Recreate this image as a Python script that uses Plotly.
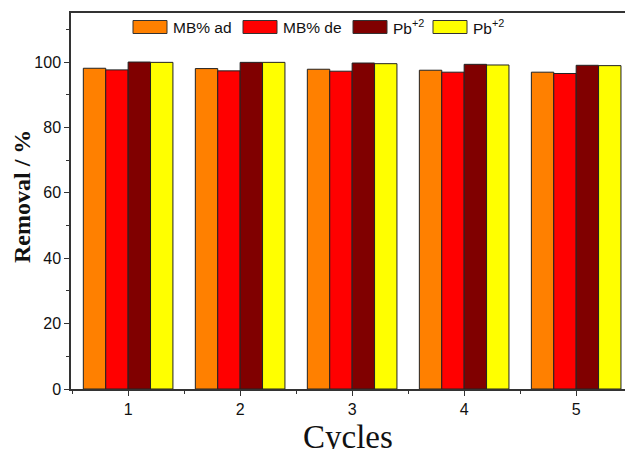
import plotly.graph_objects as go

cycles = [1, 2, 3, 4, 5]
mb_ad = [98.1, 98.0, 97.8, 97.5, 96.9]
mb_de = [97.6, 97.3, 97.2, 96.9, 96.5]
pb_1 = [100.0, 99.9, 99.7, 99.3, 99.0]
pb_2 = [99.9, 99.9, 99.5, 99.1, 98.9]

names = ["MB% ad", "MB% de", "Pb<sup>+2</sup>", "Pb<sup>+2</sup>"]
colors = ["#FF8000", "#FF0000", "#800000", "#FFFF00"]
series = [mb_ad, mb_de, pb_1, pb_2]

W, H = 625, 449
ML, MR, MT, MB = 71, 0, 13, 60
PW, PH = W - ML - MR, H - MT - MB


def px(xp):
    return (xp - ML) / PW


def py(yp):
    return (H - MB - yp) / PH


fig = go.Figure()
for nm, col, vals in zip(names, colors, series):
    fig.add_trace(go.Bar(x=cycles, y=vals, name=nm, showlegend=False,
                         marker=dict(color=col, line=dict(color="#222222", width=1))))

# custom legend (wide boxes like the original)
legend_box_x = [133, 243, 353, 433]
shapes = []
annotations = []
for bx, nm, col in zip(legend_box_x, names, colors):
    shapes.append(dict(type="rect", xref="paper", yref="paper",
                       x0=px(bx), x1=px(bx + 34), y0=py(33.5), y1=py(20.5),
                       fillcolor=col, line=dict(color="#333333", width=1)))
    annotations.append(dict(xref="paper", yref="paper", x=px(bx + 38), y=py(27),
                            xanchor="left", yanchor="middle", showarrow=False,
                            text=nm, font=dict(size=15.5, family="Liberation Sans, Arial",
                                               color="#111111")))

annotations.append(dict(xref="paper", yref="paper", x=px(22), y=py(197),
                        xanchor="center", yanchor="middle", showarrow=False, textangle=-90,
                        text="<b>Removal / %</b>",
                        font=dict(size=24, family="Liberation Serif, Times New Roman",
                                  color="#111111")))
annotations.append(dict(xref="paper", yref="paper", x=px(348), y=py(417),
                        xanchor="center", yanchor="top", showarrow=False,
                        text="Cycles",
                        font=dict(size=33, family="Liberation Serif, Times New Roman",
                                  color="#111111")))

fig.update_layout(
    width=W, height=H,
    margin=dict(l=ML, r=MR, t=MT, b=MB),
    plot_bgcolor="white", paper_bgcolor="white",
    barmode="group", bargap=0.2, bargroupgap=0,
    font=dict(family="Liberation Sans, Arial", color="#111111"),
    shapes=shapes, annotations=annotations,
    xaxis=dict(range=[0.49, 5.436], tickvals=cycles, ticks="outside", ticklen=5,
               tickwidth=1.2, tickcolor="#333", showline=True, linecolor="#333", linewidth=1.5,
               mirror=True, showgrid=False, zeroline=False,
               tickfont=dict(size=16, family="Liberation Sans, Arial"),
               minor=dict(dtick=0.5, tick0=0.5, ticks="outside", ticklen=3, tickcolor="#333")),
    yaxis=dict(range=[0, 115], dtick=20, ticks="outside", ticklen=5, tickwidth=1.2,
               tickcolor="#333", showline=True, linecolor="#333", linewidth=1.5,
               mirror=False, showgrid=False, zeroline=False,
               tickfont=dict(size=16, family="Liberation Sans, Arial"),
               minor=dict(dtick=10, ticks="outside", ticklen=3, tickcolor="#333")),
)

fig.write_html("out.html")
